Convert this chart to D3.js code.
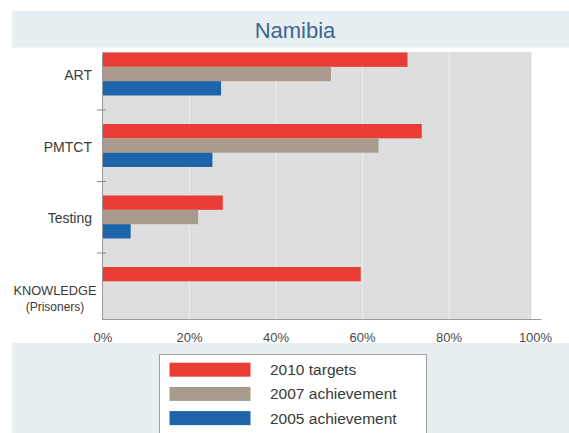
<!DOCTYPE html>
<html><head><meta charset="utf-8">
<script src="https://cdn.jsdelivr.net/npm/d3@7"></script>
<style>html,body{margin:0;padding:0;background:#fff;}svg{display:block;font-family:"Liberation Sans",Arial,sans-serif;}</style>
</head><body><svg id="c" width="569" height="433"></svg>
<script>
const title = "Namibia";
const categories = ["ART", "PMTCT", "Testing", "KNOWLEDGE\n(Prisoners)"];
const seriesNames = ["2010 targets", "2007 achievement", "2005 achievement"];
const targets2010 = [70.4, 73.7, 27.7, 59.6];
const achievement2007 = [52.7, 63.7, 22, null];
const achievement2005 = [27.3, 25.3, 6.4, null];
const tickValues = [0, 20, 40, 60, 80, 100];
const colors = ["#e83c35", "#a89a8c", "#1e64ab"];

const series = [targets2010, achievement2007, achievement2005];
const svg = d3.select("#c");

// background bands
svg.append("rect").attr("x",12).attr("y",11).attr("width",557).attr("height",36.5).attr("fill","#e8eff2");
svg.append("rect").attr("x",12).attr("y",343).attr("width",557).attr("height",90).attr("fill","#e8eff2");
svg.append("text").attr("x",295).attr("y",37.5).attr("text-anchor","middle")
  .attr("font-size",22).attr("fill","#3b6890").text(title);

const x = d3.scaleLinear().domain([0,100]).range([103,535.5]);
const y = d3.scaleBand().domain(categories).range([38.5,324.5]);
const yi = d3.scaleBand().domain(seriesNames).range([14,57]);

// plot area
svg.append("rect").attr("x",103).attr("y",52).attr("width",428.5).attr("height",267).attr("fill","#dedede");
svg.append("g").selectAll("line").data(tickValues.filter(v=>v>0&&v<100)).join("line")
  .attr("x1",d=>x(d)).attr("x2",d=>x(d)).attr("y1",52).attr("y2",319)
  .attr("stroke","#ebebeb").attr("stroke-width",1.2);

// bars
seriesNames.forEach((s,si)=>{
  svg.append("g").selectAll("rect").data(categories.map((c,i)=>({c,v:series[si][i]})).filter(d=>d.v!=null))
    .join("rect")
    .attr("x",x(0)).attr("y",d=>y(d.c)+yi(s))
    .attr("width",d=>x(d.v)-x(0)).attr("height",yi.bandwidth())
    .attr("fill",colors[si]);
});

// axes lines
svg.append("line").attr("x1",103).attr("x2",541.5).attr("y1",319.5).attr("y2",319.5).attr("stroke","#9a9a9a");
svg.append("line").attr("x1",102.5).attr("x2",102.5).attr("y1",52).attr("y2",320).attr("stroke","#9a9a9a");
// category separator ticks
svg.append("g").selectAll("line").data(categories.slice(1)).join("line")
  .attr("x1",97).attr("x2",106).attr("y1",d=>y(d)).attr("y2",d=>y(d)).attr("stroke","#8a8a8a");

// x tick labels
svg.append("g").selectAll("text").data(tickValues).join("text")
  .attr("x",d=>x(d)).attr("y",341.5).attr("text-anchor","middle")
  .attr("font-size",13).attr("fill","#4a4a4a").text(d=>d+"%");

// category labels
categories.forEach(c=>{
  const cy = y(c)+y.bandwidth()/2;
  const lines = c.split("\n");
  if(lines.length===1){
    svg.append("text").attr("x",92).attr("y",cy+6).attr("text-anchor","end")
      .attr("font-size",14).attr("fill","#3a3a3a").text(c);
  } else {
    svg.append("text").attr("x",55).attr("y",cy+6).attr("text-anchor","middle")
      .attr("font-size",12.8).attr("fill","#3a3a3a").text(lines[0]);
    svg.append("text").attr("x",55).attr("y",cy+22.5).attr("text-anchor","middle")
      .attr("font-size",12).attr("fill","#3a3a3a").text(lines[1]);
  }
});

// legend
svg.append("rect").attr("x",159.5).attr("y",354.5).attr("width",267).attr("height",90)
  .attr("fill","#fff").attr("stroke","#a0a0a0");
const lg = svg.append("g").selectAll("g").data(seriesNames).join("g")
  .attr("transform",(d,i)=>`translate(0,${362.7+i*24.2})`);
lg.append("rect").attr("x",169.5).attr("y",0).attr("width",81).attr("height",14)
  .attr("fill",(d,i)=>colors[i]);
lg.append("text").attr("x",270).attr("y",12.5).attr("font-size",15.5).attr("fill","#3a3a3a").text(d=>d);
</script></body></html>
